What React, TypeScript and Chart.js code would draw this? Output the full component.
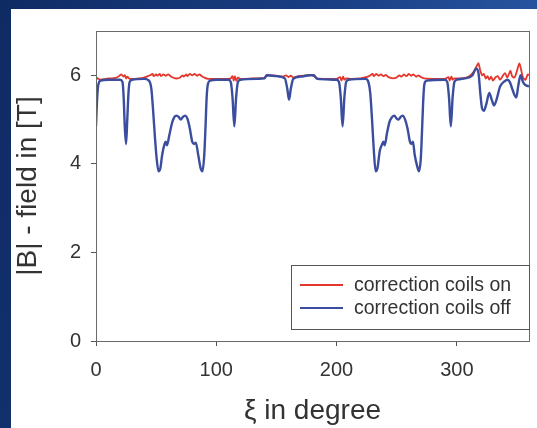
import React, { useEffect, useRef } from "react";
import { Chart, registerables } from "chart.js";

Chart.register(...registerables);

// ---- data ----
const offDegrees = [
  0, 1, 2, 4, 10, 20, 22, 23, 24, 25, 26, 27, 28, 30, 40, 44, 46, 47.5, 49, 50.5,
  52, 53.5, 55, 57, 58, 59, 61, 63, 65, 67, 69, 70.5, 72, 74, 76, 78, 80, 81.5, 83, 85,
  87, 88.5, 90, 91, 92, 93, 95, 100, 110, 112, 113.5, 115, 116.5, 118, 120, 135, 140, 142, 150, 157,
  159, 160.5, 162, 164, 170, 178, 181, 184, 200, 202, 203.5, 205, 206.5, 208, 210, 224, 226, 228, 229.5, 231,
  232.5, 234, 236, 238, 239, 240, 242, 244, 246, 248, 250, 251.5, 253, 255, 257, 259, 261, 262, 263.5, 265,
  267, 268.5, 270, 271, 272, 273, 275, 290, 292, 293.5, 295, 296.5, 298, 300, 310, 313, 316, 318, 319.5, 321,
  322.5, 324.5, 327, 329, 331, 333, 336, 339, 342, 344, 346, 348, 349.5, 351, 353, 355, 357, 360,
];
const offField = [
  4.85, 5.5, 5.8, 5.88, 5.9, 5.9, 5.85, 5.5, 4.8, 4.45, 5.0, 5.6, 5.85, 5.9, 5.92, 5.88, 5.7, 5.2, 4.6, 4.1,
  3.83, 3.9, 4.2, 4.45, 4.5, 4.42, 4.65, 4.9, 5.05, 5.09, 5.05, 5.0, 5.05, 5.09, 5.02, 4.8, 4.5, 4.45, 4.48, 4.2,
  3.9, 3.83, 4.2, 4.8, 5.5, 5.8, 5.88, 5.9, 5.9, 5.85, 5.5, 4.85, 5.5, 5.85, 5.9, 5.92, 5.93, 6.0, 5.98, 5.93,
  5.7, 5.45, 5.7, 5.92, 5.97, 6.0, 6.0, 5.92, 5.9, 5.85, 5.5, 4.85, 5.5, 5.85, 5.9, 5.92, 5.88, 5.6, 5.0, 4.3,
  3.83, 3.9, 4.3, 4.45, 4.5, 4.42, 4.7, 4.95, 5.05, 5.09, 5.02, 5.0, 5.05, 5.09, 5.0, 4.8, 4.5, 4.45, 4.5, 4.2,
  3.95, 3.83, 4.1, 4.7, 5.4, 5.8, 5.88, 5.9, 5.85, 5.5, 4.85, 5.5, 5.85, 5.9, 5.95, 6.0, 6.15, 6.05, 5.6, 5.25,
  5.2, 5.35, 5.6, 5.45, 5.32, 5.45, 5.75, 5.85, 5.9, 5.85, 5.7, 5.55, 5.5, 5.75, 6.0, 5.85, 5.78, 5.75,
];

const onDegrees = [
  0, 2, 4, 8, 12, 16, 19, 21, 23, 24, 25, 26, 28, 32, 36, 40, 43, 45, 47, 48,
  50, 51, 53, 54, 56, 58, 60, 62, 64, 66, 68, 70, 72, 73, 75, 76, 78, 80, 82, 84,
  86, 88, 90, 93, 98, 104, 110, 112, 113.5, 114.5, 115.5, 116.5, 118, 120, 130, 140, 142, 150, 155, 158,
  160, 162, 164, 168, 175, 180, 184, 195, 200, 203, 204, 205.5, 206.5, 208, 212, 220, 226, 228, 230, 231,
  233, 235, 237, 239, 241, 243, 245, 247, 250, 252, 254, 256, 258, 260, 262, 264, 266, 268, 270, 273,
  280, 290, 293, 294, 295.5, 296.5, 298, 305, 310, 314, 316, 318, 319.5, 321, 322.5, 324, 325.5, 327, 328.5, 330,
  332, 334, 336, 338, 340, 342, 344.5, 346, 348, 350, 352, 353.5, 355, 357, 359, 360,
];
const onField = [
  5.95, 5.92, 5.9, 5.92, 5.93, 5.94, 5.98, 6.02, 5.97, 6.0, 5.93, 5.97, 5.92, 5.92, 5.93, 5.95, 5.98, 6.0, 6.03, 5.98,
  6.02, 5.99, 6.03, 5.98, 6.02, 5.99, 6.02, 5.98, 5.95, 5.93, 5.93, 5.95, 6.0, 5.97, 6.02, 5.98, 6.03, 6.0, 6.03, 5.99,
  6.02, 5.98, 5.95, 5.92, 5.92, 5.92, 5.92, 5.93, 5.98, 5.88, 5.98, 5.88, 5.95, 5.92, 5.93, 5.94, 6.0, 5.99, 5.97, 6.0,
  5.96, 5.99, 5.95, 5.98, 6.0, 6.0, 5.93, 5.92, 5.92, 5.96, 5.88, 5.97, 5.9, 5.93, 5.92, 5.93, 5.97, 6.0, 6.03, 5.98,
  6.03, 5.99, 6.02, 5.98, 6.01, 5.96, 5.94, 5.93, 5.95, 6.0, 5.97, 6.02, 5.98, 6.03, 5.99, 6.02, 5.97, 6.0, 5.96, 5.93,
  5.92, 5.92, 5.96, 5.88, 5.97, 5.9, 5.93, 5.93, 5.97, 6.08, 6.18, 6.27, 6.1, 6.0, 6.03, 5.93, 5.98, 5.9, 5.97, 5.88,
  5.95, 5.98, 5.9, 5.98, 6.05, 5.95, 6.1, 5.98, 5.95, 6.1, 6.27, 6.12, 5.95, 5.9, 6.02, 6.0,
];

const xTicks = [0, 100, 200, 300];
const yTicks = [0, 2, 4, 6];
const seriesLabels = ["correction coils on", "correction coils off"];
const xTitle = "ξ in degree";
const yTitle = "|B| - field in [T]";

const RED = "#e4362c";
const BLUE = "#3a4d9f";
const TEXT = "#333333";
const FONT = "'Liberation Sans', Arial, Helvetica, sans-serif";

const framePlugin = {
  id: "frame",
  afterDatasetsDraw(chart: any) {
    const { ctx, chartArea } = chart;
    ctx.save();
    ctx.strokeStyle = "#6a6a6a";
    ctx.lineWidth = 1;
    ctx.strokeRect(
      Math.round(chartArea.left) + 0.5,
      Math.round(chartArea.top) + 0.5,
      Math.round(chartArea.right - chartArea.left),
      Math.round(chartArea.bottom - chartArea.top)
    );
    ctx.restore();
  },
};

const boxLegendPlugin = {
  id: "boxLegend",
  afterDraw(chart: any) {
    const { ctx, chartArea } = chart;
    const w = 238;
    const h = 64;
    const x1 = Math.round(chartArea.right - w);
    const y1 = Math.round(chartArea.bottom - 12 - h);
    ctx.save();
    ctx.fillStyle = "#ffffff";
    ctx.fillRect(x1, y1, w, h);
    ctx.strokeStyle = "#555555";
    ctx.lineWidth = 1;
    ctx.strokeRect(x1 + 0.5, y1 + 0.5, w, h);
    const colors = [RED, BLUE];
    seriesLabels.forEach((label, i) => {
      const y = y1 + 20 + i * 23;
      ctx.strokeStyle = colors[i];
      ctx.lineWidth = 2;
      ctx.beginPath();
      ctx.moveTo(x1 + 9, y);
      ctx.lineTo(x1 + 52, y);
      ctx.stroke();
      ctx.fillStyle = TEXT;
      ctx.font = `19.5px ${FONT}`;
      ctx.textBaseline = "middle";
      ctx.textAlign = "left";
      ctx.fillText(label, x1 + 63, y + 1);
    });
    ctx.restore();
  },
};

export default function App() {
  const canvasRef = useRef<HTMLCanvasElement | null>(null);

  useEffect(() => {
    const canvas = canvasRef.current;
    if (!canvas) return;
    const chart = new Chart(canvas, {
      type: "line",
      data: {
        datasets: [
          {
            label: seriesLabels[0],
            data: onDegrees.map((x, i) => ({ x, y: onField[i] })),
            borderColor: RED,
            borderWidth: 1.8,
            pointRadius: 0,
            tension: 0.25,
            fill: false,
            order: 1,
          },
          {
            label: seriesLabels[1],
            data: offDegrees.map((x, i) => ({ x, y: offField[i] })),
            borderColor: BLUE,
            borderWidth: 2.4,
            pointRadius: 0,
            cubicInterpolationMode: "monotone",
            fill: false,
            order: 0,
          },
        ],
      },
      options: {
        animation: false,
        responsive: false,
        maintainAspectRatio: false,
        devicePixelRatio: 1,
        layout: { padding: { left: 0, top: 15, right: 8, bottom: 0 } },
        plugins: {
          legend: { display: false },
          tooltip: { enabled: false },
          title: { display: false },
        },
        scales: {
          x: {
            type: "linear",
            min: 0,
            max: 360,
            afterBuildTicks: (s: any) => {
              s.ticks = xTicks.map((v) => ({ value: v }));
            },
            afterFit: (s: any) => {
              s.height = 87;
            },
            ticks: {
              color: TEXT,
              font: { family: FONT, size: 20 },
              padding: 12,
              maxRotation: 0,
              autoSkip: false,
            },
            grid: { drawOnChartArea: false, drawTicks: true, tickLength: 5, color: "#555" },
            border: { display: true, color: "#6a6a6a", width: 1 },
            title: {
              display: true,
              text: xTitle,
              color: TEXT,
              font: { family: FONT, size: 28 },
              padding: { top: 0, bottom: 0 },
            },
          },
          y: {
            type: "linear",
            min: 0,
            max: 7,
            afterBuildTicks: (s: any) => {
              s.ticks = yTicks.map((v) => ({ value: v }));
            },
            afterFit: (s: any) => {
              s.width = 85;
            },
            ticks: {
              color: TEXT,
              font: { family: FONT, size: 20 },
              padding: 10,
              autoSkip: false,
            },
            grid: { drawOnChartArea: false, drawTicks: true, tickLength: 5, color: "#555" },
            border: { display: true, color: "#6a6a6a", width: 1 },
            title: {
              display: true,
              text: yTitle,
              color: TEXT,
              font: { family: FONT, size: 28 },
              padding: { top: 0, bottom: 0 },
            },
          },
        },
      },
      plugins: [framePlugin, boxLegendPlugin],
    });
    return () => chart.destroy();
  }, []);

  return (
    <div
      style={{
        position: "fixed",
        inset: 0,
        background: "linear-gradient(100deg, #0f2b64 0%, #1a3f85 55%, #2b5ba8 100%)",
        overflow: "hidden",
      }}
    >
      <div
        style={{
          position: "absolute",
          left: 11,
          top: 9,
          width: 526,
          height: 419,
          background: "#ffffff",
        }}
      >
        <canvas ref={canvasRef} width={526} height={419} style={{ display: "block", width: 526, height: 419 }} />
      </div>
    </div>
  );
}
